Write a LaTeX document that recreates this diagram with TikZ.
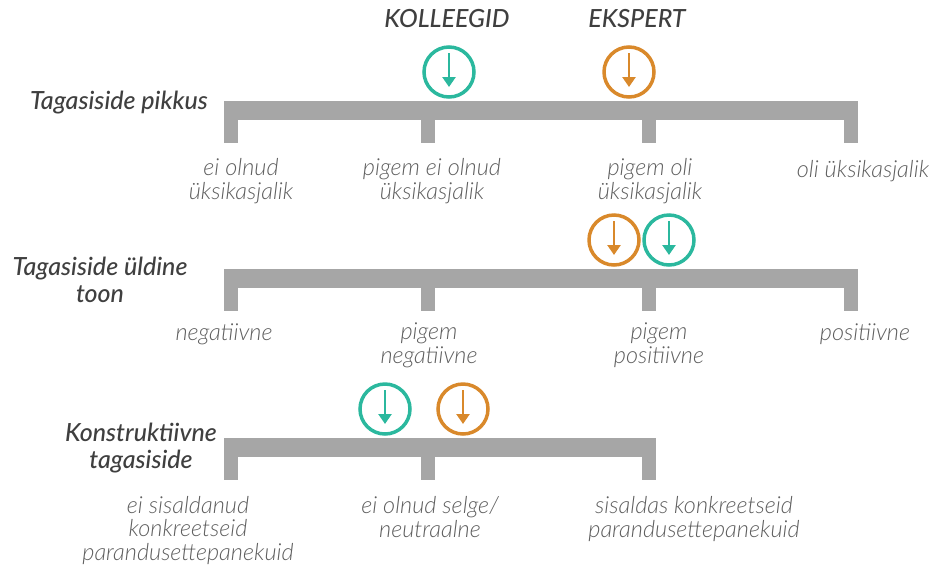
\documentclass[tikz,border=0pt]{standalone}
\usepackage{fontspec}
\setmainfont{Lato}
\newfontfamily\siltfont{Lato Light Italic}
\newfontfamily\tiitelfont{Lato Medium Italic}
\usetikzlibrary{arrows.meta}
\definecolor{kolleeg}{HTML}{2BB89E}
\definecolor{ekspert}{HTML}{D9892B}
\definecolor{skaala}{HTML}{A6A6A6}
\definecolor{tiitel}{HTML}{3F3F3F}
\definecolor{silt}{HTML}{5E5E5E}

\begin{document}
\begin{tikzpicture}[x=1pt,y=-1pt,
  hinne/.style={circle,draw=#1,line width=3.5pt,minimum size=50pt,inner sep=0pt},
  noolike/.style={draw=#1,line width=2.5pt,-{Triangle[length=10pt,width=13pt,fill=#1]}},
  silt/.style={text=silt,font=\siltfont\fontsize{23.5}{23.5}\selectfont,align=center,inner sep=0pt,anchor=base},
  tiitel/.style={text=tiitel,font=\tiitelfont\fontsize{25}{27}\selectfont,align=center,inner sep=0pt}]
\useasboundingbox (0,0) rectangle (936,566);

% skaalad
\fill[skaala] (224,101) rectangle (858,120);
\foreach \x in {224,421,642,844}
  \fill[skaala] (\x,120) rectangle (\x+14,143);
\fill[skaala] (224,269) rectangle (858,288);
\foreach \x in {224,421,642,844}
  \fill[skaala] (\x,288) rectangle (\x+14,311);
\fill[skaala] (224,438) rectangle (656,457);
\foreach \x in {224,421,642}
  \fill[skaala] (\x,457) rectangle (\x+14,480);

% pealkirjad (mitmerealise sõlme base = viimase rea alusjoon)
\node[tiitel,anchor=base] (kolleegid) at (447,27) {KOLLEEGID};
\node[tiitel,anchor=base] (ekspert) at (637,27) {EKSPERT};
\node[tiitel,anchor=base east] (pikkus) at (208,109) {Tagasiside pikkus};
\node[tiitel,anchor=base] (toon) at (100,302) {Tagasiside \"uldine\\toon};
\node[tiitel,anchor=base] (konstr) at (141,468) {Konstruktiivne\\tagasiside};

% hinnangud
\node[hinne=kolleeg] (k1) at (449,72) {};
\node[hinne=ekspert] (e1) at (629,72) {};
\node[hinne=ekspert] (e2) at (614,240) {};
\node[hinne=kolleeg] (k2) at (669,240) {};
\node[hinne=kolleeg] (k3) at (385,409) {};
\node[hinne=ekspert] (e3) at (463,409) {};
\foreach \n/\c in {k1/kolleeg,e1/ekspert,e2/ekspert,k2/kolleeg,k3/kolleeg,e3/ekspert}
  \draw[noolike=\c] (\n.center) ++(0,-19) -- ++(0,34);

% sildid
\node[silt] (p1) at (241,199) {ei olnud\\\"uksikasjalik};
\node[silt] (p2) at (432,199) {pigem ei olnud\\\"uksikasjalik};
\node[silt] (p3) at (650,199) {pigem oli\\\"uksikasjalik};
\node[silt] (p4) at (863,177) {oli \"uksikasjalik};
\node[silt] (t1) at (224,340) {negatiivne};
\node[silt] (t2) at (429,363) {pigem\\negatiivne};
\node[silt] (t3) at (659,363) {pigem\\positiivne};
\node[silt] (t4) at (865,340) {positiivne};
\node[silt] (c1) at (188,560) {ei sisaldanud\\konkreetseid\\parandusettepanekuid};
\node[silt] (c2) at (430,537) {ei olnud selge/\\neutraalne};
\node[silt] (c3) at (694,537) {sisaldas konkreetseid\\parandusettepanekuid};
\end{tikzpicture}
\end{document}
